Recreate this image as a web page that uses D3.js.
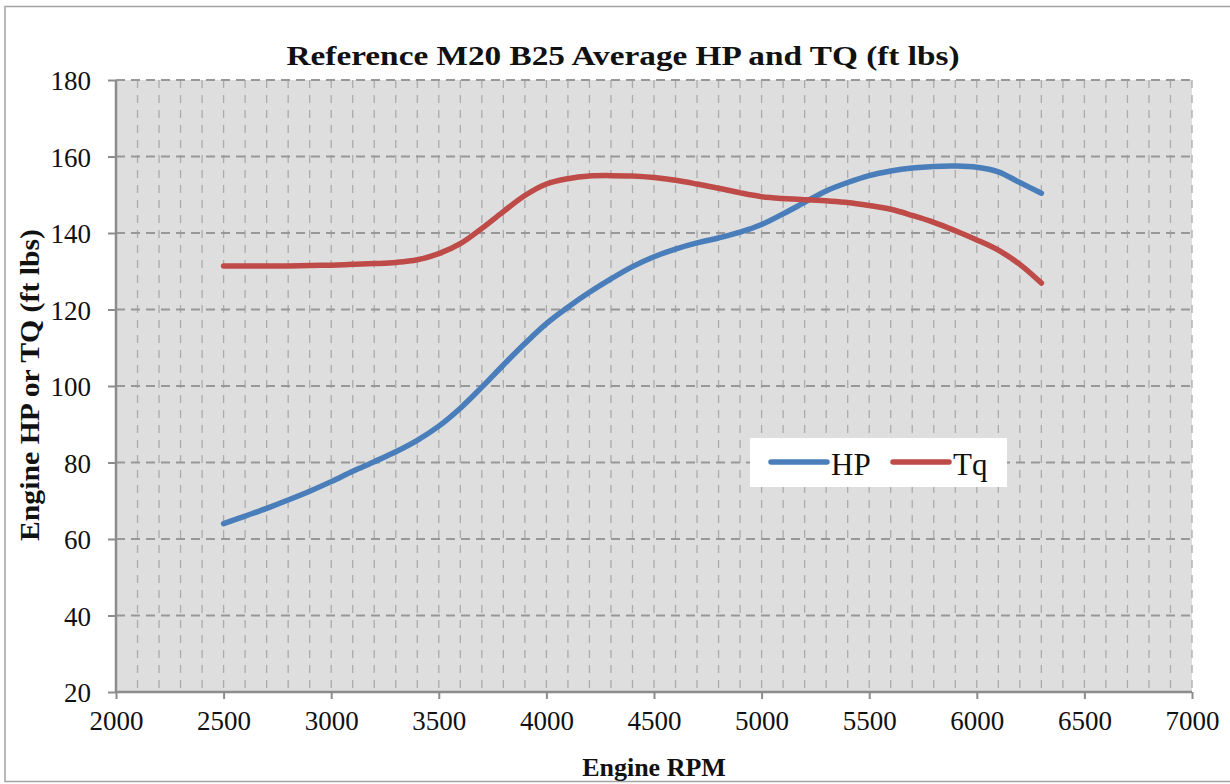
<!DOCTYPE html>
<html>
<head>
<meta charset="utf-8">
<script src="https://cdn.jsdelivr.net/npm/d3@7"></script>
<style>
  body { margin: 0; background: #fff; }
  svg { display: block; }
</style>
</head>
<body>
<svg id="chart" width="1230" height="784" font-family="Liberation Serif, DejaVu Serif, serif"></svg>
<script>
// rpm steps, every 100 rpm
const rpm = [2500, 2600, 2700, 2800, 2900, 3000, 3100, 3200, 3300, 3400,
             3500, 3600, 3700, 3800, 3900, 4000, 4100, 4200, 4300, 4400,
             4500, 4600, 4700, 4800, 4900, 5000, 5100, 5200, 5300, 5400,
             5500, 5600, 5700, 5800, 5900, 6000, 6100, 6200, 6300];

const hp = [64, 66, 68, 70.2, 72.5, 75, 77.7, 80.2, 82.8, 85.8,
            89.5, 94.2, 99.7, 105.5, 111.1, 116.3, 120.6, 124.5, 128, 131.2,
            133.8, 135.8, 137.4, 138.7, 140.2, 142.2, 145, 148, 151, 153.2,
            155, 156.2, 157, 157.4, 157.5, 157.2, 156, 153.2, 150.4];

const tq = [131.4, 131.4, 131.4, 131.4, 131.5, 131.6, 131.8, 132, 132.3, 133,
            134.6, 137.2, 141.2, 145.6, 149.8, 152.8, 154.2, 154.9, 155, 154.9,
            154.5, 153.8, 152.8, 151.7, 150.5, 149.5, 149, 148.7, 148.4, 148,
            147.2, 146.2, 144.6, 142.8, 140.6, 138.2, 135.5, 131.8, 126.9];

const xTicks = [2000, 2500, 3000, 3500, 4000, 4500, 5000, 5500, 6000, 6500, 7000];
const yTicks = [20, 40, 60, 80, 100, 120, 140, 160, 180];
const seriesNames = ["HP", "Tq"];
const seriesColors = ["#4a7ebb", "#be4b48"];

const svg = d3.select("#chart");
const margin = {top: 80, left: 116, right: 38, bottom: 92};
const width = 1230, height = 784;
const innerWidth = width - margin.left - margin.right;
const innerHeight = height - margin.top - margin.bottom;

const xScale = d3.scaleLinear().domain([2000, 7000]).range([0, innerWidth]);
const yScale = d3.scaleLinear().domain([20, 180]).range([innerHeight, 0]);

// outer frame (open on the right, like the cropped original)
svg.append("path")
    .attr("d", `M${width},6.5H5V781.5H${width}`)
    .attr("fill", "none")
    .attr("stroke", "#a3a3a3")
    .attr("stroke-width", 1.5);

const g = svg.append("g")
    .attr("transform", `translate(${margin.left}, ${margin.top})`);

// plot background
g.append("rect")
    .attr("width", innerWidth).attr("height", innerHeight)
    .attr("fill", "#dedede");

// vertical gridlines every 100 rpm
g.append("g")
    .selectAll("line")
    .data(d3.range(2100, 7001, 100))
    .enter().append("line")
        .attr("x1", d => xScale(d)).attr("x2", d => xScale(d))
        .attr("y1", 0).attr("y2", innerHeight)
        .attr("stroke", "#ababab")
        .attr("stroke-width", 1.3)
        .attr("stroke-dasharray", "8,7");

// horizontal gridlines
g.append("g")
    .selectAll("line")
    .data(yTicks.slice(1))
    .enter().append("line")
        .attr("x1", 0).attr("x2", innerWidth)
        .attr("y1", d => yScale(d)).attr("y2", d => yScale(d))
        .attr("stroke", "#989898")
        .attr("stroke-width", 2)
        .attr("stroke-dasharray", "9,6");

// axes
const xAxis = d3.axisBottom(xScale).tickValues(xTicks).tickFormat(d3.format("d"))
    .tickSize(7).tickPadding(12);
const yAxis = d3.axisLeft(yScale).tickValues(yTicks).tickSize(8).tickPadding(17);

const xg = g.append("g")
    .attr("transform", `translate(0, ${innerHeight})`)
    .call(xAxis);
const yg = g.append("g").call(yAxis);

[xg, yg].forEach(ax => {
    ax.attr("font-size", 27).attr("font-family", null);
    ax.select(".domain").attr("stroke", "#8c8c8c").attr("stroke-width", 2.5);
    ax.selectAll(".tick line").attr("stroke", "#8c8c8c").attr("stroke-width", 2);
    ax.selectAll(".tick text").attr("fill", "#111");
});
xg.select(".domain").attr("d", `M0,0H${innerWidth}`);
yg.select(".domain").attr("d", `M0,0V${innerHeight}`);
yg.selectAll(".tick text").attr("dy", "0.36em");

// lines
const genLine = (vals) => d3.line()
    .x((d, i) => xScale(rpm[i]))
    .y(d => yScale(d))
    .curve(d3.curveCatmullRom)(vals);

g.append("g")
    .attr("fill", "none")
    .attr("stroke-width", 5.5)
    .attr("stroke-linecap", "round")
    .attr("stroke-linejoin", "round")
    .selectAll("path")
    .data([hp, tq])
    .enter().append("path")
        .attr("d", d => genLine(d))
        .attr("stroke", (d, i) => seriesColors[i]);

// legend
const legend = svg.append("g").attr("transform", "translate(750, 438)");
legend.append("rect")
    .attr("width", 257).attr("height", 49)
    .attr("fill", "#fff");
const legendX = [21, 143];
seriesNames.forEach((name, i) => {
    legend.append("line")
        .attr("x1", legendX[i]).attr("x2", legendX[i] + 56)
        .attr("y1", 24).attr("y2", 24)
        .attr("stroke", seriesColors[i])
        .attr("stroke-width", 5.5)
        .attr("stroke-linecap", "round");
    legend.append("text")
        .attr("x", legendX[i] + 60).attr("y", 37)
        .attr("font-size", 31)
        .attr("fill", "#111")
        .text(name);
});

// title and axis labels
svg.append("text")
    .attr("x", 623).attr("y", 65)
    .attr("text-anchor", "middle")
    .attr("font-size", 27).attr("font-weight", "bold")
    .attr("fill", "#111")
    .attr("textLength", 673).attr("lengthAdjust", "spacingAndGlyphs")
    .text("Reference M20 B25 Average HP and TQ (ft lbs)");

svg.append("text")
    .attr("transform", "translate(39, 385) rotate(-90)")
    .attr("text-anchor", "middle")
    .attr("font-size", 27).attr("font-weight", "bold")
    .attr("fill", "#111")
    .attr("textLength", 312).attr("lengthAdjust", "spacingAndGlyphs")
    .text("Engine HP or TQ (ft lbs)");

svg.append("text")
    .attr("x", 654).attr("y", 776)
    .attr("text-anchor", "middle")
    .attr("font-size", 26).attr("font-weight", "bold")
    .attr("fill", "#111")
    .text("Engine RPM");
</script>
</body>
</html>
